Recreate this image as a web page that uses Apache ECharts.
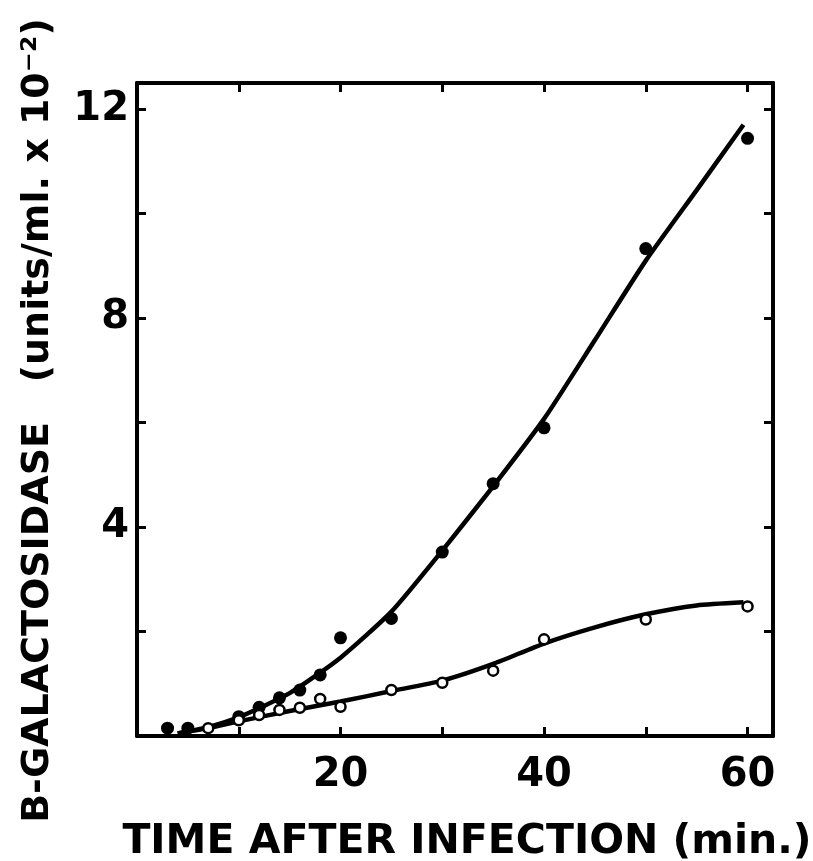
<!DOCTYPE html>
<html>
<head>
<meta charset="utf-8">
<script src="https://cdn.jsdelivr.net/npm/echarts@6/dist/echarts.min.js"></script>
<style>
  html, body { margin: 0; padding: 0; background: #fff; }
  #chart { width: 813px; height: 861px; }
</style>
</head>
<body>
<div id="chart"></div>
<script>
// Minutes after infection at which enzyme was assayed
const inducedTimes = [3, 5, 10, 12, 14, 16, 18, 20, 25, 30, 35, 40, 50, 60];
const inducedValues = [0.15, 0.15, 0.37, 0.55, 0.73, 0.88, 1.17, 1.88, 2.25, 3.52, 4.83, 5.9, 9.33, 11.44];

const controlTimes = [7, 10, 12, 14, 16, 18, 20, 25, 30, 35, 40, 50, 60];
const controlValues = [0.15, 0.3, 0.4, 0.5, 0.54, 0.71, 0.56, 0.88, 1.02, 1.25, 1.85, 2.23, 2.48];

// Hand-drawn smooth curves through each set
const inducedCurveX = [4, 7, 10, 15, 20, 25, 30, 35, 40, 45, 50, 55, 59.6];
const inducedCurveY = [0.05, 0.17, 0.36, 0.82, 1.5, 2.38, 3.55, 4.78, 6.07, 7.58, 9.1, 10.45, 11.7];

const controlCurveX = [4, 7, 10, 15, 20, 25, 30, 35, 40, 45, 50, 55, 59.6];
const controlCurveY = [0.05, 0.15, 0.28, 0.48, 0.66, 0.86, 1.06, 1.38, 1.77, 2.08, 2.33, 2.5, 2.56];

// Tick labels shown on the axes
const xTickLabels = [20, 40, 60];
const yTickLabels = [4, 8, 12];

const zip = (xs, ys) => xs.map((x, i) => [x, ys[i]]);

const FONT = 'DejaVu Sans';
const INK = '#000';

const chart = echarts.init(document.getElementById('chart'), null, { renderer: 'canvas' });

const axisCommon = {
  type: 'value',
  interval: 2,
  axisLine: { show: true, onZero: false, lineStyle: { color: INK, width: 4 } },
  axisTick: { show: true, inside: true, length: 9, lineStyle: { color: INK, width: 3 } },
  splitLine: { show: false }
};

chart.setOption({
  animation: false,
  backgroundColor: '#fff',
  grid: {
    left: 137, right: 40, top: 83, bottom: 125,
    containLabel: false,
    outerBoundsMode: 'none'
  },
  xAxis: [
    Object.assign({}, axisCommon, {
      position: 'bottom',
      min: 0, max: 62.5, interval: 10,
      axisLabel: {
        margin: 20,
        color: INK, fontFamily: FONT, fontWeight: 'bold', fontSize: 40,
        formatter: v => xTickLabels.includes(v) ? String(v) : ''
      },
      name: 'TIME AFTER INFECTION (min.)',
      nameLocation: 'middle',
      nameGap: 86,
      nameTextStyle: { color: INK, fontFamily: FONT, fontWeight: 'bold', fontSize: 41, padding: [0, 0, 0, 24] }
    }),
    Object.assign({}, axisCommon, {
      position: 'top',
      min: 0, max: 62.5, interval: 10,
      axisLabel: { show: false }
    })
  ],
  yAxis: [
    Object.assign({}, axisCommon, {
      position: 'left',
      min: 0, max: 12.5,
      axisLabel: {
        margin: 8,
        color: INK, fontFamily: FONT, fontWeight: 'bold', fontSize: 40,
        formatter: v => yTickLabels.includes(v) ? String(v) : ''
      },
      name: 'B-GALACTOSIDASE   (units/ml. x 10⁻²)',
      nameLocation: 'middle',
      nameGap: 80,
      nameRotate: 90,
      nameTextStyle: { color: INK, fontFamily: FONT, fontWeight: 'bold', fontSize: 38, padding: [0, 22, 0, 0] }
    }),
    Object.assign({}, axisCommon, {
      position: 'right',
      min: 0, max: 12.5,
      axisLabel: { show: false }
    })
  ],
  series: [
    {
      type: 'line',
      data: zip(inducedCurveX, inducedCurveY),
      smooth: 0.2,
      showSymbol: false,
      lineStyle: { color: INK, width: 4.5 },
      z: 2
    },
    {
      type: 'line',
      data: zip(controlCurveX, controlCurveY),
      smooth: 0.2,
      showSymbol: false,
      lineStyle: { color: INK, width: 4.5 },
      z: 2
    },
    {
      type: 'scatter',
      data: zip(inducedTimes, inducedValues),
      symbol: 'circle',
      symbolSize: 13,
      itemStyle: { color: INK, opacity: 1 },
      z: 3
    },
    {
      type: 'scatter',
      data: zip(controlTimes, controlValues),
      symbol: 'circle',
      symbolSize: 10,
      itemStyle: { color: '#fff', borderColor: INK, borderWidth: 2.5, opacity: 1 },
      z: 3
    }
  ]
});
</script>
</body>
</html>
